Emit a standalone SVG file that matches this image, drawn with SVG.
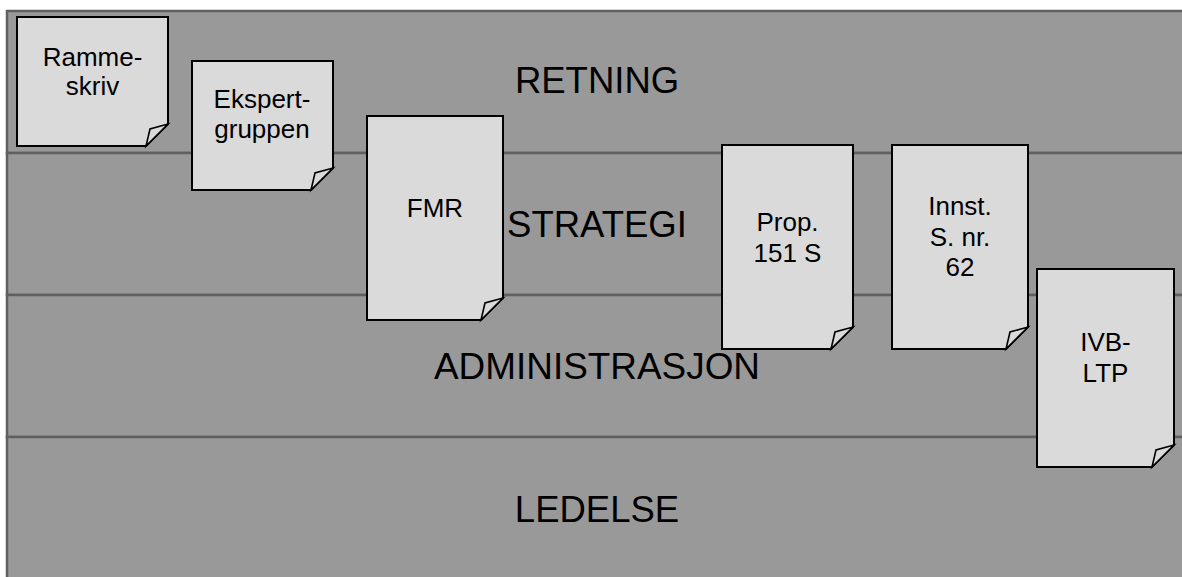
<svg xmlns="http://www.w3.org/2000/svg" width="1182" height="577" viewBox="0 0 1182 577">
<style>
.lane{fill:#999999;stroke:#606060;stroke-width:2.5}
.lbl{font-family:"Liberation Sans",Arial,sans-serif;font-size:36.5px;fill:#000;text-anchor:middle}
.doc{fill:#dadada;stroke:#000;stroke-width:2;stroke-linejoin:miter}
.fold{fill:#dadada;stroke:#000;stroke-width:1.6;stroke-linejoin:miter}
.t{font-family:"Liberation Sans",Arial,sans-serif;font-size:26px;fill:#000;text-anchor:middle}
</style>
<rect width="1182" height="577" fill="#ffffff"/>
<g id="lanes">
<rect id="lane-retning" class="lane" x="7" y="11" width="1185" height="142"/>
<rect id="lane-strategi" class="lane" x="7" y="153" width="1185" height="142"/>
<rect id="lane-administrasjon" class="lane" x="7" y="295" width="1185" height="142"/>
<rect id="lane-ledelse" class="lane" x="7" y="437" width="1185" height="150"/>
<text class="lbl" x="597" y="93">RETNING</text>
<text class="lbl" x="597" y="237">STRATEGI</text>
<text class="lbl" x="597" y="379" textLength="326" lengthAdjust="spacingAndGlyphs">ADMINISTRASJON</text>
<text class="lbl" x="597" y="522">LEDELSE</text>
</g>
<g id="connectors"></g>
<g id="node-rammeskriv">
<path class="doc" d="M17,17 H168 V124 L146,146 H17 Z"/>
<path class="fold" d="M146,146 L150,129 L168,124 Z"/>
<text class="t" x="92.5" y="66">Ramme-</text>
<text class="t" x="92.5" y="95">skriv</text>
</g>
<g id="node-ekspertgruppen">
<path class="doc" d="M192,61 H333 V168 L311,190 H192 Z"/>
<path class="fold" d="M311,190 L315,173 L333,168 Z"/>
<text class="t" x="262" y="108">Ekspert-</text>
<text class="t" x="262" y="138">gruppen</text>
</g>
<g id="node-fmr">
<path class="doc" d="M367,116 H503 V298 L481,320 H367 Z"/>
<path class="fold" d="M481,320 L485,303 L503,298 Z"/>
<text class="t" x="435" y="217">FMR</text>
</g>
<g id="node-prop">
<path class="doc" d="M722,145 H853 V327 L831,349 H722 Z"/>
<path class="fold" d="M831,349 L835,332 L853,327 Z"/>
<text class="t" x="787.5" y="231">Prop.</text>
<text class="t" x="787.5" y="262">151 S</text>
</g>
<g id="node-innst">
<path class="doc" d="M892,145 H1028 V327 L1006,349 H892 Z"/>
<path class="fold" d="M1006,349 L1010,332 L1028,327 Z"/>
<text class="t" x="960" y="215">Innst.</text>
<text class="t" x="960" y="246">S. nr.</text>
<text class="t" x="960" y="276">62</text>
</g>
<g id="node-ivb-ltp">
<path class="doc" d="M1037,269 H1174 V445 L1152,467 H1037 Z"/>
<path class="fold" d="M1152,467 L1156,450 L1174,445 Z"/>
<text class="t" x="1105.5" y="351">IVB-</text>
<text class="t" x="1105.5" y="382">LTP</text>
</g>
</svg>
